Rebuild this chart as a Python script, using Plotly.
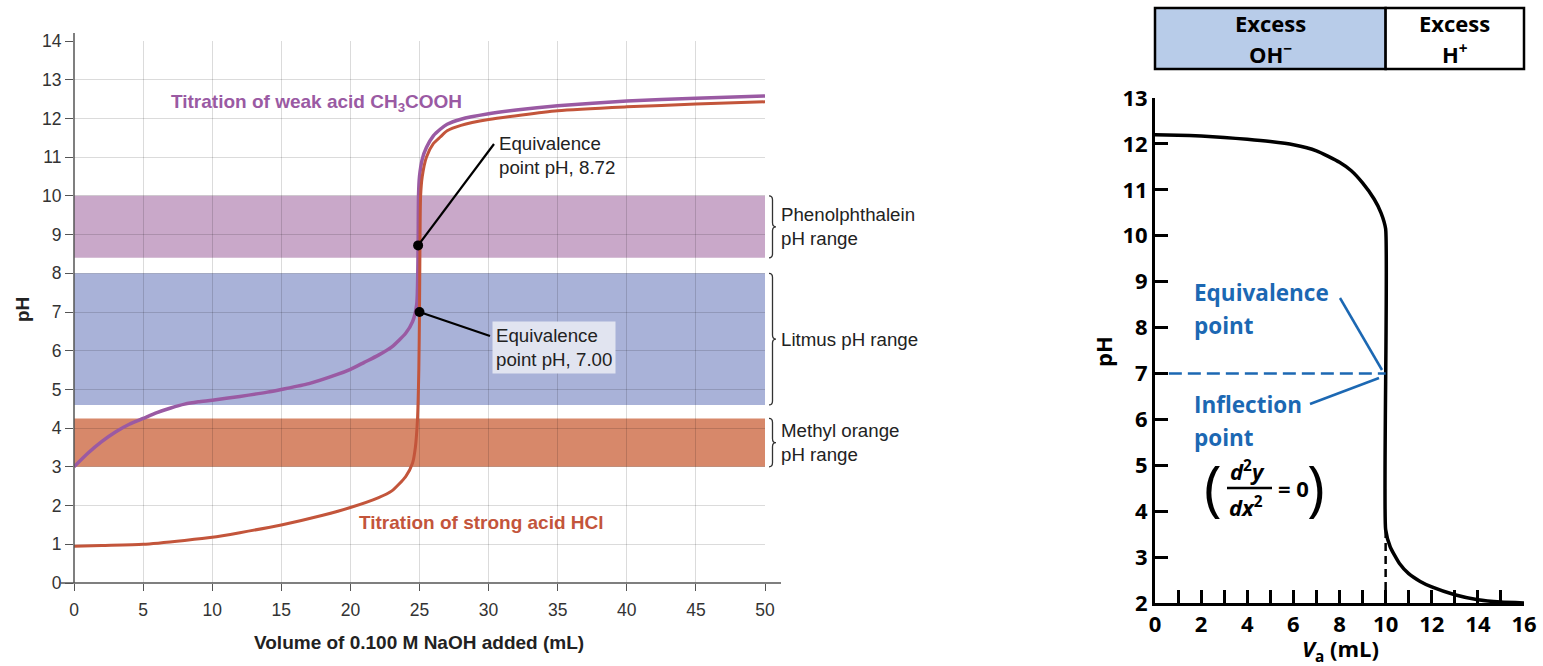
import plotly.graph_objects as go

W, H = 1543, 666

# ---------------- Left chart data ----------------
strong_ml = [0, 2, 5, 8, 10, 12, 15, 18, 20, 22, 23, 24, 24.5, 24.7, 24.85, 24.95, 25.0, 25.03, 25.08,
             25.2, 25.5, 26, 26.5, 27, 28, 30, 35, 40, 45, 50]
strong_ph = [0.95, 0.97, 1.0, 1.1, 1.18, 1.3, 1.5, 1.75, 1.95, 2.2, 2.38, 2.75, 3.1, 3.5, 4.2, 5.5, 7.0, 8.5, 10.0,
             10.5, 11.0, 11.35, 11.52, 11.68, 11.82, 11.97, 12.2, 12.3, 12.37, 12.43]

weak_ml = [0, 1, 2, 3, 4, 5, 6, 7, 8, 9, 10, 12, 14, 15, 17, 19, 20, 21, 22, 23, 24, 24.5, 24.8, 24.9,
           24.93, 25.0, 25.2, 25.5, 26, 26.5, 27, 28, 30, 32, 35, 40, 45, 50]
weak_ph = [3.0, 3.35, 3.65, 3.9, 4.1, 4.25, 4.4, 4.52, 4.62, 4.68, 4.72, 4.82, 4.93, 5.0, 5.15, 5.38, 5.52, 5.7,
           5.88, 6.1, 6.45, 6.75, 7.2, 8.72, 10.0, 10.5, 10.95, 11.25, 11.55, 11.72, 11.85, 11.98, 12.12, 12.22,
           12.33, 12.45, 12.52, 12.58]

x_ticks_left = [0, 5, 10, 15, 20, 25, 30, 35, 40, 45, 50]
y_ticks_left = list(range(0, 15))

indicator_labels = ["Phenolphthalein<br>pH range", "Litmus pH range", "Methyl orange<br>pH range"]
indicator_low = [8.4, 4.6, 3.0]
indicator_high = [10.0, 8.0, 4.25]
indicator_colors = ["#c9a8c9", "#a9b2d8", "#d7886a"]

equiv_ml = [24.9, 25.0]
equiv_ph = [8.72, 7.00]
equiv_labels = ["Equivalence<br>point pH, 8.72", "Equivalence<br>point pH, 7.00"]

# ---------------- Right chart data ----------------
va_ml = [0, 1, 2, 3, 4, 5, 6, 7, 8, 8.5, 9, 9.5, 9.8, 10, 10, 10.2, 10.6, 11, 11.5, 12, 13, 14, 15, 16]
va_ph = [12.2, 12.19, 12.17, 12.14, 12.1, 12.05, 11.98, 11.85, 11.6, 11.42, 11.15, 10.8, 10.5, 10.15,
         3.6, 3.22, 2.86, 2.64, 2.47, 2.35, 2.18, 2.07, 2.02, 2.0]
x_ticks_right = list(range(0, 17, 2))
y_ticks_right = list(range(2, 14))
equiv_right_ph = 7
equiv_right_ml = 10

PURPLE = "#9a5aa3"
RED = "#c3553b"
BLUE = "#1c68b3"
LFONT = "Liberation Sans, Arial, sans-serif"
RFONT = "Open Sans, Lato, sans-serif"


def px(x):
    return x / W


def py(y):
    return 1 - y / H


# axis pixel frames
L_X0, L_X1, L_Y0, L_Y1 = 74, 765, 583, 41
R_X0, R_X1, R_Y0, R_Y1 = 1155, 1524, 603, 98


def ly(v):  # left data pH -> pixel y
    return L_Y0 - (L_Y0 - L_Y1) * v / 14.0


def lx_inv(p):
    return (p - L_X0) / (L_X1 - L_X0) * 50.0


def ly_inv(p):
    return (L_Y0 - p) / (L_Y0 - L_Y1) * 14.0


def note(x, y, text, size, color="#222", family=LFONT, xanchor="center", yanchor="middle", **kw):
    d = dict(xref="paper", yref="paper", x=px(x), y=py(y), text=text, showarrow=False,
             xanchor=xanchor, yanchor=yanchor, font=dict(family=family, size=size, color=color))
    d.update(kw)
    return d


fig = go.Figure()

# curves
fig.add_trace(go.Scatter(x=weak_ml, y=weak_ph, mode="lines", line=dict(color=PURPLE, width=3.5, shape="spline", smoothing=0.6),
                         xaxis="x", yaxis="y", hoverinfo="skip"))
fig.add_trace(go.Scatter(x=strong_ml, y=strong_ph, mode="lines", line=dict(color=RED, width=3, shape="spline", smoothing=0.6),
                         xaxis="x", yaxis="y", hoverinfo="skip"))
fig.add_trace(go.Scatter(x=equiv_ml, y=equiv_ph, mode="markers", marker=dict(color="black", size=10),
                         xaxis="x", yaxis="y", hoverinfo="skip"))

fig.add_trace(go.Scatter(x=va_ml, y=va_ph, mode="lines", line=dict(color="black", width=3.5, shape="spline", smoothing=0.5),
                         xaxis="x2", yaxis="y2", hoverinfo="skip", cliponaxis=False))
fig.add_trace(go.Scatter(x=[0.6, equiv_right_ml], y=[equiv_right_ph, equiv_right_ph], mode="lines",
                         line=dict(color=BLUE, width=2.5, dash="13px,6px"), xaxis="x2", yaxis="y2", hoverinfo="skip"))
fig.add_trace(go.Scatter(x=[equiv_right_ml, equiv_right_ml], y=[2, 3.6], mode="lines",
                         line=dict(color="black", width=2.5, dash="8px,5px"), xaxis="x2", yaxis="y2", hoverinfo="skip"))

shapes = []
annotations = []

# indicator bands + braces + labels
for lab, lo, hi, col in zip(indicator_labels, indicator_low, indicator_high, indicator_colors):
    shapes.append(dict(type="rect", xref="x", yref="y", x0=0, x1=50, y0=lo, y1=hi, fillcolor=col,
                       line=dict(width=0), layer="below"))
    y0, y1 = ly(hi), ly(lo)
    ym = (y0 + y1) / 2
    xb, w, r = 769, 3.5, 4
    pts = [("M", xb, y0), ("Q", xb + w, y0, xb + w, y0 + r), ("L", xb + w, ym - r),
           ("Q", xb + w, ym, xb + 2 * w, ym), ("Q", xb + w, ym, xb + w, ym + r),
           ("L", xb + w, y1 - r), ("Q", xb + w, y1, xb, y1)]
    path = ""
    for p in pts:
        cmd = p[0]
        coords = p[1:]
        s = []
        for i in range(0, len(coords), 2):
            s.append(f"{px(coords[i]):.6f},{py(coords[i + 1]):.6f}")
        path += cmd + " " + " ".join(s) + " "
    shapes.append(dict(type="path", xref="paper", yref="paper", path=path.strip(),
                       line=dict(color="#333", width=1.3)))
    annotations.append(note(779, ym, lab, 18.7, xanchor="left", align="left"))

# left axis lines (extend slightly past the ranges)
shapes.append(dict(type="line", xref="paper", yref="paper", x0=px(L_X0), x1=px(L_X0), y0=py(L_Y0), y1=py(33),
                   line=dict(color="#555", width=1.5)))
shapes.append(dict(type="line", xref="paper", yref="paper", x0=px(61), x1=px(781), y0=py(L_Y0), y1=py(L_Y0),
                   line=dict(color="#555", width=1.5)))

# leader lines for equivalence labels
leader_ends_px = [(494, 144), (490, 336)]
for (xm, ym_), (ex, ey) in zip(zip(equiv_ml, equiv_ph), leader_ends_px):
    shapes.append(dict(type="line", xref="x", yref="y", x0=xm, y0=ym_, x1=lx_inv(ex), y1=ly_inv(ey),
                       line=dict(color="black", width=2.2)))

annotations.append(note(497, 155, equiv_labels[0], 18.7, xanchor="left", align="left"))
annotations.append(note(492, 347, equiv_labels[1], 18.7, xanchor="left", align="left",
                        bgcolor="#e1e4f0", borderpad=3))

annotations.append(note(316, 103, "<b>Titration of weak acid CH<sub>3</sub>COOH</b>", 19, color=PURPLE))
annotations.append(note(482, 522, "<b>Titration of strong acid HCl</b>", 19, color=RED))
annotations.append(note(419, 642, "<b>Volume of 0.100 M NaOH added (mL)</b>", 19))
annotations.append(note(22, 310, "<b>pH</b>", 19, textangle=-90))

# ---------------- Right chart decorations ----------------
xm_px = R_X0 + (R_X1 - R_X0) * equiv_right_ml / 16.0
shapes.append(dict(type="rect", xref="paper", yref="paper", x0=px(R_X0), x1=px(xm_px), y0=py(69), y1=py(8),
                   fillcolor="#b8cce9", line=dict(color="black", width=2.5)))
shapes.append(dict(type="rect", xref="paper", yref="paper", x0=px(xm_px), x1=px(R_X1), y0=py(69), y1=py(8),
                   fillcolor="white", line=dict(color="black", width=2.5)))
cx_l, cx_r = (R_X0 + xm_px) / 2, (xm_px + R_X1) / 2
annotations.append(note(cx_l, 23, "<b>Excess</b>", 22, color="black", family=RFONT))
annotations.append(note(cx_l, 53, "<b>OH<sup>−</sup></b>", 22, color="black", family=RFONT))
annotations.append(note(cx_r, 23, "<b>Excess</b>", 22, color="black", family=RFONT))
annotations.append(note(cx_r, 53, "<b>H<sup>+</sup></b>", 22, color="black", family=RFONT))

for txt, yy in [("Equivalence", 292), ("point", 325), ("Inflection", 404), ("point", 437)]:
    annotations.append(note(1192, yy, f"<b>{txt}</b>", 22.5, color=BLUE, family=RFONT, xanchor="left"))
shapes.append(dict(type="line", xref="paper", yref="paper", x0=px(1340), y0=py(298), x1=px(1382), y1=py(370),
                   line=dict(color=BLUE, width=2.5)))
shapes.append(dict(type="line", xref="paper", yref="paper", x0=px(1310), y0=py(404), x1=px(1379), y1=py(378),
                   line=dict(color=BLUE, width=2.5)))

# fraction (d2y/dx2 = 0)
annotations.append(note(1213, 486, "(", 60, color="black", family=RFONT))
annotations.append(note(1316, 486, ")", 60, color="black", family=RFONT))
annotations.append(note(1247, 470, "<b><i>d</i><sup>2</sup><i>y</i></b>", 22, color="black", family=RFONT))
annotations.append(note(1246, 506, "<b><i>dx</i><sup>2</sup></b>", 22, color="black", family=RFONT))
annotations.append(note(1293, 488, "<b>= 0</b>", 22, color="black", family=RFONT))
shapes.append(dict(type="line", xref="paper", yref="paper", x0=px(1227), y0=py(488), x1=px(1272), y1=py(488),
                   line=dict(color="black", width=2.5)))

annotations.append(note(1103, 352, "<b>pH</b>", 22, color="black", family=RFONT, textangle=-90))
annotations.append(note(1340, 650, "<b><i>V</i><sub>a</sub> (mL)</b>", 22, color="black", family=RFONT))

fig.update_layout(
    width=W, height=H, margin=dict(l=0, r=0, t=0, b=0, autoexpand=False),
    paper_bgcolor="white", plot_bgcolor="rgba(0,0,0,0)", showlegend=False,
    xaxis=dict(domain=[px(L_X0), px(L_X1)], range=[0, 50], tickvals=x_ticks_left, showgrid=True,
               gridcolor="rgba(0,0,0,0.14)", gridwidth=1, zeroline=False, showline=False, automargin=False,
               ticks="outside", ticklen=7, tickcolor="#555", tickwidth=1.2, ticklabelstandoff=4,
               tickfont=dict(family=LFONT, size=17.5, color="#333"), anchor="y", fixedrange=True),
    yaxis=dict(domain=[py(L_Y0), py(L_Y1)], range=[0, 14], tickvals=y_ticks_left, showgrid=True,
               gridcolor="rgba(0,0,0,0.14)", gridwidth=1, zeroline=False, showline=False, automargin=False,
               ticks="outside", ticklen=8, tickcolor="#555", tickwidth=1.2,
               tickfont=dict(family=LFONT, size=17.5, color="#333"), anchor="x", fixedrange=True),
    xaxis2=dict(domain=[px(R_X0), px(R_X1)], range=[0, 16], tickvals=x_ticks_right,
                showgrid=False, zeroline=False, showline=True, linecolor="black", linewidth=3, automargin=False,
                ticks="inside", ticklen=13, tickcolor="black", tickwidth=2.5,
                minor=dict(dtick=1, ticks="inside", ticklen=13, tickcolor="black", tickwidth=2.5, showgrid=False),
                tickfont=dict(family=RFONT, size=22, color="black", weight="bold"), anchor="y2", fixedrange=True),
    yaxis2=dict(domain=[py(R_Y0), py(R_Y1)], range=[2, 13], tickvals=y_ticks_right, showgrid=False,
                zeroline=False, showline=True, linecolor="black", linewidth=3, automargin=False,
                ticks="inside", ticklen=13, tickcolor="black", tickwidth=2.5,
                tickfont=dict(family=RFONT, size=22, color="black", weight="bold"), anchor="x2", fixedrange=True),
    shapes=shapes, annotations=annotations,
)
fig.update_layout(font=dict(family=LFONT))

fig.write_html("out.html", config={"displayModeBar": False},
               post_script="document.body.style.margin='0';document.body.style.overflow='hidden';")
